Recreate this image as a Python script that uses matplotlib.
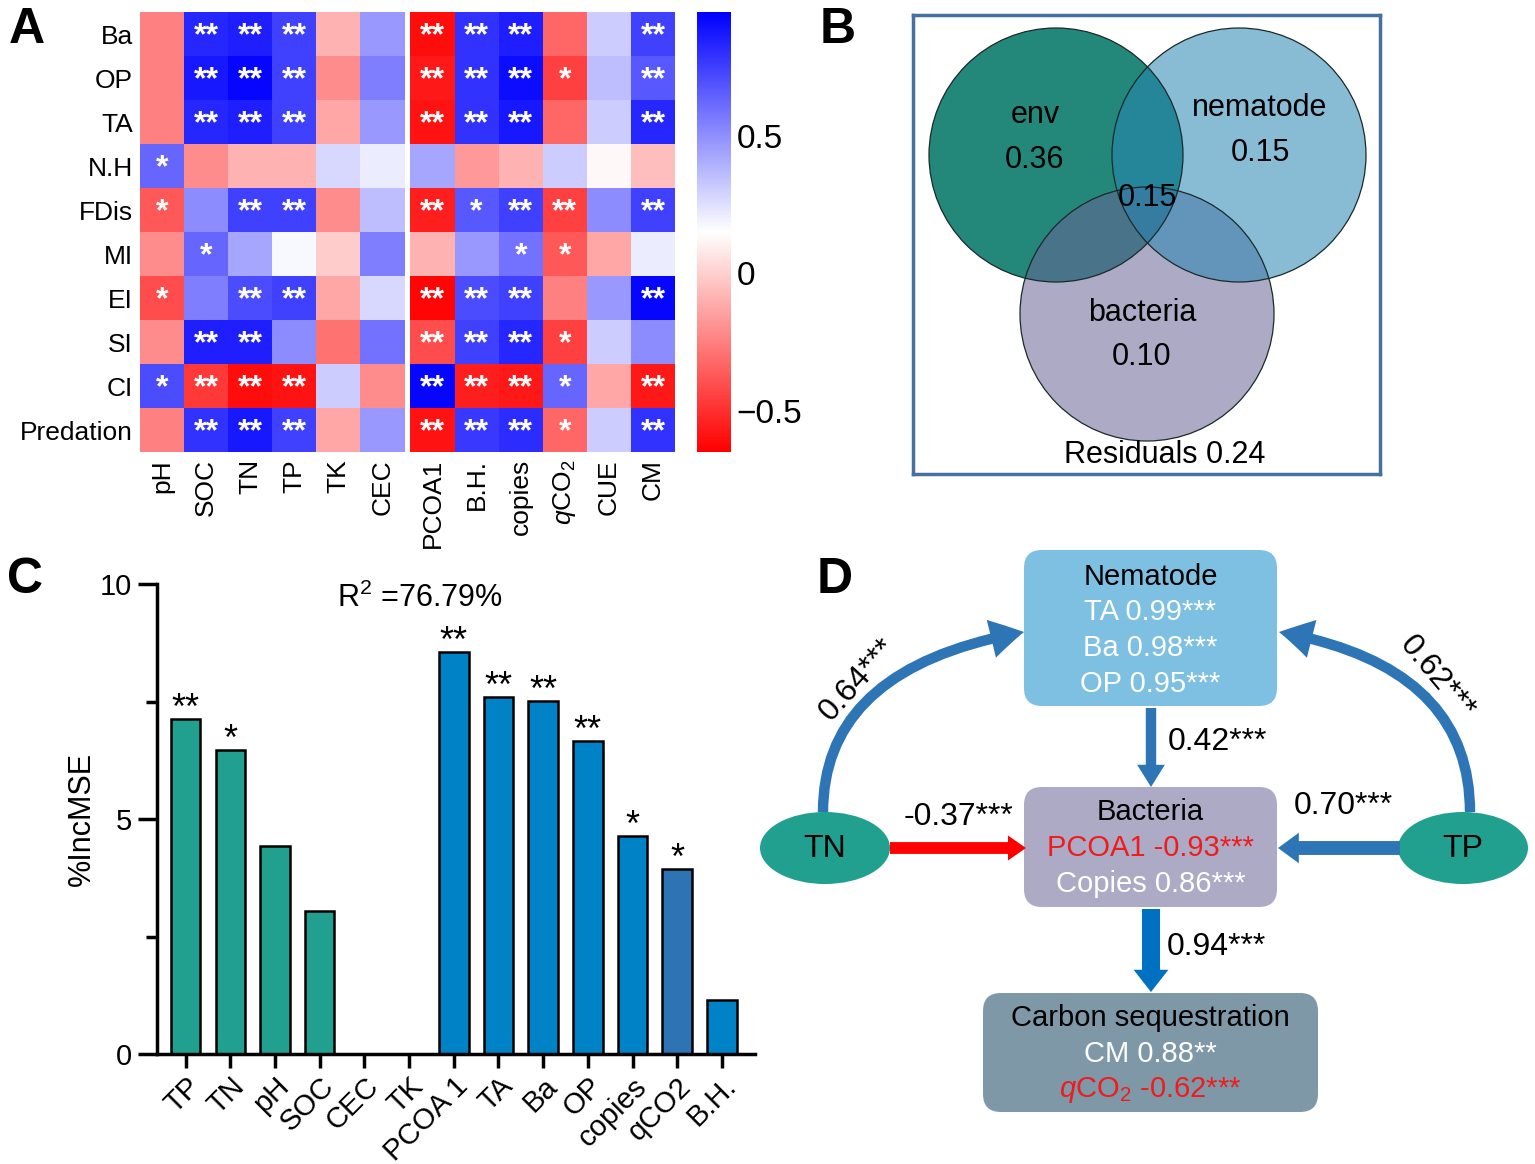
import numpy as np
import matplotlib
matplotlib.use('Agg')
import matplotlib.pyplot as plt
from matplotlib.colors import LinearSegmentedColormap
from matplotlib.patches import Circle, Ellipse, FancyBboxPatch, FancyArrowPatch

plt.rcParams['font.family'] = ['Liberation Sans', 'DejaVu Sans']
plt.rcParams['mathtext.fontset'] = 'custom'
plt.rcParams['mathtext.rm'] = 'Liberation Sans'
plt.rcParams['mathtext.it'] = 'Liberation Sans:italic'

W, H = 1535, 1164

# ---------------- data: panel A (correlation heatmap)
row_names = ['Ba', 'OP', 'TA', 'N.H', 'FDis', 'MI', 'EI', 'SI', 'CI', 'Predation']
col_names = ['pH', 'SOC', 'TN', 'TP', 'TK', 'CEC',
             'PCOA1', 'B.H.', 'copies', r'$q$CO$_2$', 'CUE', 'CM']
corr = np.array([
    [-0.25, 0.83, 0.85, 0.75, -0.09, 0.47, -0.61, 0.79, 0.85, -0.33, 0.31, 0.75],
    [-0.25, 0.87, 0.93, 0.75, -0.21, 0.55, -0.57, 0.79, 0.91, -0.45, 0.35, 0.67],
    [-0.25, 0.83, 0.85, 0.75, -0.13, 0.47, -0.59, 0.79, 0.87, -0.33, 0.31, 0.83],
    [0.63, -0.21, -0.09, -0.09, 0.27, 0.21, 0.43, -0.17, -0.09, 0.31, 0.13, -0.05],
    [-0.37, 0.51, 0.75, 0.75, -0.21, 0.35, -0.55, 0.67, 0.75, -0.45, 0.51, 0.75],
    [-0.21, 0.63, 0.43, 0.17, -0.01, 0.55, -0.09, 0.47, 0.59, -0.37, -0.13, 0.21],
    [-0.41, 0.55, 0.71, 0.75, -0.13, 0.27, -0.63, 0.71, 0.75, -0.25, 0.47, 0.93],
    [-0.21, 0.85, 0.85, 0.51, -0.29, 0.59, -0.41, 0.75, 0.83, -0.45, 0.31, 0.51],
    [0.71, -0.47, -0.61, -0.59, 0.31, -0.21, 0.93, -0.55, -0.57, 0.63, -0.13, -0.57],
    [-0.25, 0.79, 0.87, 0.75, -0.13, 0.47, -0.59, 0.77, 0.81, -0.33, 0.31, 0.79],
])
stars = [
    ['', '**', '**', '**', '', '', '**', '**', '**', '', '', '**'],
    ['', '**', '**', '**', '', '', '**', '**', '**', '*', '', '**'],
    ['', '**', '**', '**', '', '', '**', '**', '**', '', '', '**'],
    ['*', '', '', '', '', '', '', '', '', '', '', ''],
    ['*', '', '**', '**', '', '', '**', '*', '**', '**', '', '**'],
    ['', '*', '', '', '', '', '', '', '*', '*', '', ''],
    ['*', '', '**', '**', '', '', '**', '**', '**', '', '', '**'],
    ['', '**', '**', '', '', '', '**', '**', '**', '*', '', ''],
    ['*', '**', '**', '**', '', '', '**', '**', '**', '*', '', '**'],
    ['', '**', '**', '**', '', '', '**', '**', '**', '*', '', '**'],
]

# ---------------- data: panel B (variation partitioning)
venn_names = ['env', 'nematode', 'bacteria']
venn_values = ['0.36', '0.15', '0.10']
shared_value = '0.15'
residuals = 0.24

# ---------------- data: panel C (random forest importance)
rf_vars = ['TP', 'TN', 'pH', 'SOC', 'CEC', 'TK', 'PCOA 1', 'TA', 'Ba', 'OP', 'copies', 'qCO2', 'B.H.']
inc_mse = [7.13, 6.46, 4.42, 3.04, 0, 0, 8.56, 7.60, 7.52, 6.65, 4.64, 3.93, 1.15]
rf_sig = ['**', '*', '', '', '', '', '**', '**', '**', '**', '*', '*', '']
rf_group = ['env'] * 6 + ['bio'] * 5 + ['qco2', 'bio']
r2_text = 'R$^2$ =76.79%'

# ---------------- data: panel D (SEM)
nem_lines = [('Nematode', 'black'), ('TA 0.99***', 'white'), ('Ba 0.98***', 'white'), ('OP 0.95***', 'white')]
bac_lines = [('Bacteria', 'black'), ('PCOA1 -0.93***', '#ee1c1c'), ('Copies 0.86***', 'white')]
car_lines = [('Carbon sequestration', 'black'), ('CM 0.88**', 'white'), (r'$q$CO$_2$ -0.62***', '#ee1c1c')]
path_tn_nem = '0.64***'
path_tp_nem = '0.62***'
path_nem_bac = '0.42***'
path_tn_bac = '-0.37***'
path_tp_bac = '0.70***'
path_bac_car = '0.94***'

fig = plt.figure(figsize=(W / 100, H / 100), dpi=100)


def px_axes(x0, y0, x1, y1):
    return fig.add_axes([x0 / W, 1 - y1 / H, (x1 - x0) / W, (y1 - y0) / H])


# ================= A
axA = px_axes(140, 12, 675, 452)
gap = 0.135
data = np.ma.masked_invalid(np.insert(corr, 6, np.nan, axis=1))
xedges = np.r_[np.arange(7), np.arange(7) + 6 + gap]
yedges = np.arange(len(row_names) + 1)
cmap = LinearSegmentedColormap.from_list('rwb', ['#ff0000', '#ffffff', '#0000ff'])
mesh = axA.pcolormesh(xedges, yedges, data, cmap=cmap, vmin=-0.65, vmax=0.95)
axA.set_xlim(0, 12 + gap)
axA.set_ylim(len(row_names), 0)
xc = np.r_[np.arange(6) + 0.5, np.arange(6) + 6.5 + gap]
axA.set_xticks(xc)
axA.set_xticklabels(col_names, rotation=90, fontsize=19, va='top', ha='center')
axA.set_yticks(np.arange(len(row_names)) + 0.5)
axA.set_yticklabels(row_names, fontsize=19)
axA.tick_params(length=0, pad=5)
for s in axA.spines.values():
    s.set_visible(False)
for i in range(len(row_names)):
    for j in range(len(col_names)):
        if stars[i][j]:
            axA.text(xc[j], i + 0.55, stars[i][j], color='white', ha='center', va='center',
                     fontsize=23, fontweight='bold')

cax = px_axes(697, 12, 731, 452)
cb = fig.colorbar(mesh, cax=cax)
cb.outline.set_visible(False)
cb.set_ticks([-0.5, 0, 0.5])
cb.set_ticklabels(['\u22120.5', '0', '0.5'])
cb.ax.tick_params(length=0, labelsize=24, pad=4)

# ================= B
axB = px_axes(913, 15, 1380, 474)
axB.set_xlim(913, 1380)
axB.set_ylim(474, 15)
axB.set_xticks([])
axB.set_yticks([])
for s in axB.spines.values():
    s.set_color('#46709f')
    s.set_linewidth(2.5)
centers = {'env': (1056, 155), 'nematode': (1239, 155), 'bacteria': (1147, 314)}
radius = 127
axB.add_patch(Circle(centers['env'], radius, fc='#23877a', ec='none'))
axB.add_patch(Circle(centers['bacteria'], radius, fc='#686494', alpha=0.55, ec='none'))
axB.add_patch(Circle(centers['nematode'], radius, fc='#2785b4', alpha=0.55, ec='none'))
for name in venn_names:
    axB.add_patch(Circle(centers[name], radius, fc='none', ec='#1a2a2a', lw=0.9))
label_pos = {'env': (1035, 115, 160), 'nematode': (1260, 108, 153), 'bacteria': (1142, 313, 357)}
for name, val in zip(venn_names, venn_values):
    x, y1, y2 = label_pos[name]
    axB.text(x, y1, name, ha='center', va='center', fontsize=22)
    axB.text(x, y2, val, ha='center', va='center', fontsize=22)
axB.text(1147, 198, shared_value, ha='center', va='center', fontsize=22)
axB.text(1165, 455, f'Residuals {residuals:.2f}', ha='center', va='center', fontsize=22)

# ================= C
axC = px_axes(157, 584, 755, 1054)
x = np.arange(len(rf_vars))
group_colors = {'env': '#21a08f', 'bio': '#0082c6', 'qco2': '#2e74b5'}
axC.bar(x, inc_mse, width=0.66, color=[group_colors[g] for g in rf_group],
        edgecolor='black', linewidth=1.8)
axC.set_xlim(-0.64, 12.74)
axC.set_ylim(0, 10)
axC.spines[['top', 'right']].set_visible(False)
axC.spines[['left', 'bottom']].set_linewidth(2.5)
axC.set_yticks([0, 5, 10])
axC.set_yticks([2.5, 7.5], minor=True)
axC.tick_params(axis='y', which='major', length=14, width=2.5, labelsize=21, pad=4)
axC.tick_params(axis='y', which='minor', length=8, width=2.5)
axC.tick_params(axis='x', length=10, width=2.5, labelsize=21, pad=3)
axC.set_xticks(x)
axC.set_xticklabels(rf_vars, rotation=45, ha='right', rotation_mode='anchor')
axC.set_ylabel('%IncMSE', fontsize=22, labelpad=2)
for xi, v, s in zip(x, inc_mse, rf_sig):
    if s:
        axC.annotate(s, (xi, v), xytext=(0, 0), textcoords='offset points',
                     ha='center', va='baseline', fontsize=26)
fig.text(420 / W, 1 - 598 / H, r2_text, ha='center', va='center', fontsize=22)

# ================= D
axD = px_axes(740, 540, 1535, 1164)
axD.set_xlim(740, 1535)
axD.set_ylim(1164, 540)
axD.axis('off')


def box(x0, y0, x1, y1, color, lines, ys):
    axD.add_patch(FancyBboxPatch((x0, y0), x1 - x0, y1 - y0,
                                 boxstyle='round,pad=0,rounding_size=18', fc=color, ec='none'))
    for (t, c), y in zip(lines, ys):
        axD.text((x0 + x1) / 2, y, t, color=c, ha='center', va='center', fontsize=21)


box(1024, 550, 1277, 706, '#7ec0e2', nem_lines, [577, 612, 648, 684])
box(1024, 787, 1277, 907, '#acaac4', bac_lines, [812, 848, 884])
box(983, 993, 1318, 1112, '#7e98a8', car_lines, [1018, 1054, 1090])

for cx, name in [(825, 'TN'), (1463, 'TP')]:
    axD.add_patch(Ellipse((cx, 848), 130, 72, fc='#21a08f', ec='none'))
    axD.text(cx, 849, name, ha='center', va='center', fontsize=23)


def arrow(p0, p1, color, tw, hw, hl, conn='arc3'):
    axD.add_patch(FancyArrowPatch(p0, p1, connectionstyle=conn,
                                  arrowstyle=f'simple,head_length={hl},head_width={hw},tail_width={tw}',
                                  color=color, shrinkA=0, shrinkB=0, mutation_scale=1, lw=0))


blue = '#2e75b6'
arrow((1151, 708), (1151, 787), blue, 7.5, 20, 16)
arrow((1151, 909), (1151, 992), '#0070c0', 13, 25, 16)
arrow((890, 848), (1026, 848), '#ff0000', 8.5, 18, 13)
arrow((1400, 848), (1278, 848), blue, 10, 22, 15)
arrow((823, 812), (1024, 632), blue, 7.5, 28, 24, 'angle3,angleA=90,angleB=10')
arrow((1470, 812), (1279, 632), blue, 7.5, 28, 24, 'angle3,angleA=90,angleB=170')

axD.text(858, 680, path_tn_nem, rotation=48, ha='center', va='center', fontsize=23)
axD.text(1437, 678, path_tp_nem, rotation=-50, ha='center', va='center', fontsize=23)
axD.text(1168, 742, path_nem_bac, ha='left', va='center', fontsize=23)
axD.text(958, 817, path_tn_bac, ha='center', va='center', fontsize=23)
axD.text(1343, 806, path_tp_bac, ha='center', va='center', fontsize=23)
axD.text(1167, 947, path_bac_car, ha='left', va='center', fontsize=23)

# panel letters
for letter, (px, py) in {'A': (27, 30), 'B': (838, 30), 'C': (25, 580), 'D': (835, 580)}.items():
    fig.text(px / W, 1 - py / H, letter, fontsize=36, fontweight='bold', ha='center', va='center')

fig.savefig('out.png', dpi=100)
